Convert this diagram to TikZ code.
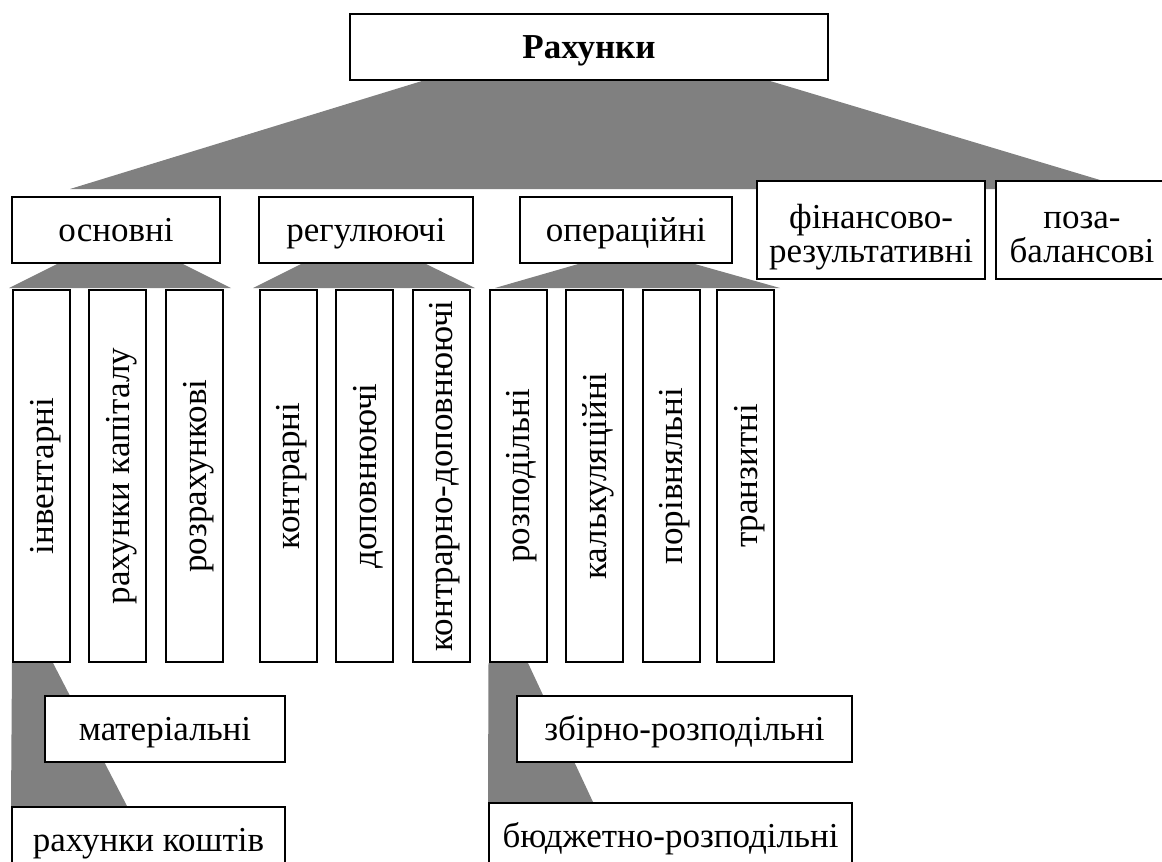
\documentclass[tikz,border=0pt]{standalone}
\usepackage{fontspec}
\setmainfont{Liberation Serif}
\usetikzlibrary{backgrounds}

\begin{document}
\begin{tikzpicture}[x=0.5pt,y=-0.5pt,
    box/.style={draw,line width=1pt,fill=white,inner sep=0pt,align=center,
        font=\fontsize{17.5}{17}\selectfont,text height=15.7pt,text depth=3.9pt},
    hbox/.style={box,minimum height=33pt},
    tbox/.style={box,minimum height=49pt,text height=36.5pt,text depth=4pt},
    vbox/.style={box,rotate=90,minimum width=186pt,minimum height=28.5pt},
    conn/.style={fill=gray}]
\useasboundingbox (0,0) rectangle (1162,862);
% top
\node[hbox,font=\bfseries\fontsize{17.5}{17}\selectfont,minimum width=239pt] (root) at (589,47) {Рахунки};
% second level
\node[hbox,minimum width=104pt] (osn) at (116,229.5) {основні};
\node[hbox,minimum width=107pt] (reg) at (366,229.5) {регулюючі};
\node[hbox,minimum width=106pt] (oper) at (626,229.5) {операційні};
\node[tbox,minimum width=114pt] (fin) at (871,230) {фінансово-\\результативні};
\node[tbox,minimum width=86pt] (poza) at (1082,230) {поза-\\балансові};
% vertical boxes
\foreach \x/\txt/\nm in {41.5/інвентарні/inv,117.5/рахунки капіталу/kap,194.5/розрахункові/rozr,
        288/контрарні/kontr,364.5/доповнюючі/dop,441/контрарно-доповнюючі/kdop,
        518/розподільні/rozp,594.5/калькуляційні/kalk,671/порівняльні/por,745.5/транзитні/tranz}
    \node[vbox] (\nm) at (\x,476) {\txt};
% bottom
\node[hbox,minimum width=120pt] (mat) at (165,729) {матеріальні};
\node[hbox,minimum width=136.5pt] (kosht) at (148.5,840) {рахунки коштів};
\node[hbox,minimum width=167.5pt] (zb) at (684.5,728.5) {збірно-розподільні};
\node[hbox,minimum width=181.5pt] (budg) at (670.5,836) {бюджетно-розподільні};
% gray links
\begin{scope}[on background layer]
    \fill[conn] (root.south -| 422,0) -- (root.south -| 770,0) -- (1130,189) -- (70,189) -- cycle;
    \fill[conn] (osn.south -| 58,0) -- (osn.south -| 182,0) -- (231,288) -- (9,288) -- cycle;
    \fill[conn] (reg.south -| 302,0) -- (reg.south -| 425,0) -- (475,288) -- (253,288) -- cycle;
    \fill[conn] (oper.south -| 580,0) -- (oper.south -| 693,0) -- (780,288) -- (495,288) -- cycle;
    \fill[conn] (inv.north west) -- (inv.north west -| 53,0) -- (kosht.north -| 127,0) -- (kosht.north west) -- cycle;
    \fill[conn] (rozp.north west) -- (rozp.north west -| 528,0) -- (budg.north -| 593,0) -- (budg.north west) -- cycle;
\end{scope}
\end{tikzpicture}
\end{document}
